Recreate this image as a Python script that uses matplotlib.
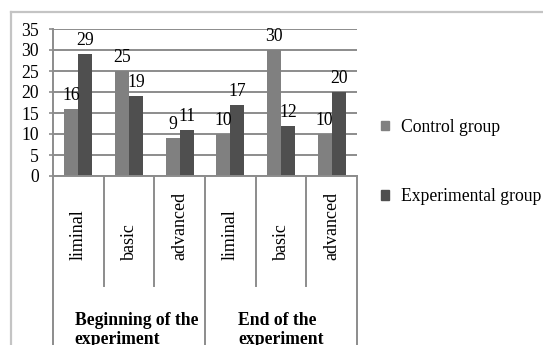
import matplotlib

matplotlib.use("Agg")
import matplotlib.pyplot as plt
import numpy as np
from matplotlib.lines import Line2D
from matplotlib.patches import Patch

# data
levels = ["liminal", "basic", "advanced", "liminal", "basic", "advanced"]
stages = ["Beginning of the\nexperiment", "End of the\nexperiment"]
control = [16, 25, 9, 10, 30, 10]
experimental = [29, 19, 11, 17, 12, 20]
series_names = ["Control group", "Experimental group"]
y_ticks = [0, 5, 10, 15, 20, 25, 30, 35]

plt.rcParams["font.family"] = ["Liberation Serif", "DejaVu Serif"]

W, H = 543, 345
fig = plt.figure(figsize=(W / 100, H / 100), dpi=100)

# plot area in pixels: x 53..357, y 29..176 (top..zero line)
x0, x1, ytop, yzero = 53, 357, 29, 176
ax = fig.add_axes([x0 / W, 1 - yzero / H, (x1 - x0) / W, (yzero - ytop) / H])

grid_c = "#8c8c8c"
c_ctrl = "#808080"
c_exp = "#4f4f4f"
bw = 0.276

x = np.arange(len(levels))
b1 = ax.bar(x - bw / 2, control, bw, color=c_ctrl, zorder=2)
b2 = ax.bar(x + bw / 2, experimental, bw, color=c_exp, zorder=2)

for bars, vals in ((b1, control), (b2, experimental)):
    for rect, v in zip(bars, vals):
        ax.annotate(
            str(v),
            (rect.get_x() + rect.get_width() / 2, v),
            xytext=(0, 6.3),
            textcoords="offset points",
            ha="center",
            va="baseline",
            fontsize=12.7,
            zorder=3,
        )

ax.set_xlim(-0.5, len(levels) - 0.5)
ax.set_ylim(0, 35)
ax.set_yticks(y_ticks)
ax.yaxis.grid(True, color=grid_c, lw=1.4)
ax.set_axisbelow(True)
ax.tick_params(axis="y", direction="out", length=3, width=1.2, color=grid_c,
               pad=7, labelsize=12.7)
ax.tick_params(axis="x", bottom=False, labelbottom=False)
for side in ("top", "right"):
    ax.spines[side].set_visible(False)
for side in ("left", "bottom"):
    ax.spines[side].set_color(grid_c)
    ax.spines[side].set_linewidth(1.4)


def ax_y(py):
    # pixel row below the plot -> axes fraction
    return (yzero - py) / (yzero - ytop)


trans = ax.get_xaxis_transform()
for b in np.arange(-0.5, len(levels), 1.0):
    long_line = abs(b - (-0.5)) < 1e-6 or abs(b - 2.5) < 1e-6 or abs(b - 5.5) < 1e-6
    bottom = ax_y(360) if long_line else ax_y(286)
    ax.add_line(Line2D([b, b], [0, bottom], transform=trans, color=grid_c,
                       lw=1.4, clip_on=False))

for xi, name in zip(x, levels):
    ax.text(xi, ax_y(260), name, transform=trans, rotation=90, ha="center",
            va="bottom", fontsize=13)

# stage labels under each group of three levels
stage_x = [1.15, 4.0]
for sx, name in zip(stage_x, stages):
    ax.text(sx, ax_y(312), name, transform=trans, ha="center",
            va="top", multialignment="left", fontsize=12.7, fontweight="bold",
            linespacing=1.12)

# outer chart border (only the top and left edges fall inside the image)
fig.add_artist(Line2D([11 / W, 542 / W], [1 - 12 / H, 1 - 12 / H],
                      color="#c4c4c4", lw=1.6))
fig.add_artist(Line2D([11 / W, 11 / W], [1 - 12 / H, 0],
                      color="#c4c4c4", lw=1.6))

handles = [Patch(color=c_ctrl), Patch(color=c_exp)]
fig.legend(
    handles,
    series_names,
    loc="center left",
    bbox_to_anchor=(381 / W, 1 - 162 / H),
    frameon=False,
    fontsize=12.7,
    handlelength=0.45,
    handleheight=0.45,
    handletextpad=0.7,
    labelspacing=3.0,
    borderpad=0,
    borderaxespad=0,
)

fig.savefig("out.png", dpi=100)
